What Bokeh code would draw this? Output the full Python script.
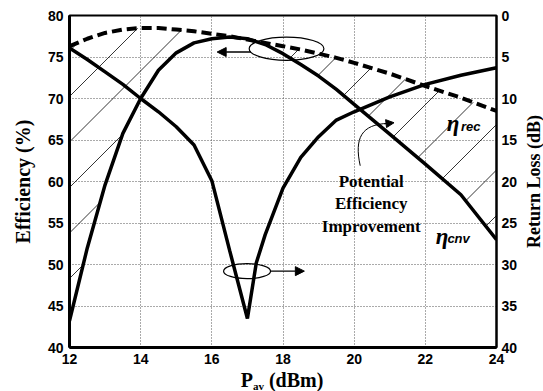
import numpy as np
from bokeh.plotting import figure
from bokeh.layouts import column, row
from bokeh.models import (Range1d, LinearAxis, FixedTicker, Label, Arrow,
                          NormalHead, Div)
from bokeh.embed import file_html
from bokeh.resources import INLINE

# ---- data ----
p_av = [12, 12.5, 13, 13.5, 14, 14.5, 15, 15.5, 16, 16.5, 17, 17.5, 18,
        18.5, 19, 19.5, 20, 21, 22, 23, 24]
eta_cnv = [43.2, 52.0, 59.6, 65.8, 70.0, 73.4, 75.5, 76.7, 77.2, 77.4, 77.2,
           76.5, 75.4, 74.1, 72.7, 71.1, 69.3, 65.7, 62.1, 58.4, 53.0]
eta_rec = [76.3, 77.2, 77.9, 78.3, 78.5, 78.5, 78.3, 78.1, 77.8, 77.5, 77.1,
           76.7, 76.3, 75.9, 75.4, 74.9, 74.3, 73.0, 71.5, 70.1, 68.5]

p_av_rl = [12, 12.5, 13, 13.5, 14, 14.5, 15, 15.5, 16, 16.5, 17, 17.25, 17.5,
           18, 18.5, 19, 19.5, 20, 21, 22, 23, 24]
return_loss = [3.9, 5.3, 6.8, 8.3, 10.0, 11.6, 13.4, 15.6, 19.9, 28.3, 36.5,
               29.8, 26.4, 20.8, 17.1, 14.6, 12.6, 11.6, 9.8, 8.3, 7.2, 6.3]

x_ticks = [12, 14, 16, 18, 20, 22, 24]
eff_ticks = [40, 45, 50, 55, 60, 65, 70, 75, 80]
rl_ticks = [0, 5, 10, 15, 20, 25, 30, 35, 40]

# ---- figure ----
TOTAL_W, TOTAL_H = 543, 391
W, H = 525, 370
BL, BR, BT, BB = 69, 29, 15, 23
x0, x1, e0, e1 = 12, 24, 40, 80
p = figure(width=W, height=H, x_range=Range1d(x0, x1), y_range=Range1d(e0, e1),
           output_backend="svg", toolbar_location=None,
           min_border_left=BL, min_border_right=BR, min_border_top=BT,
           min_border_bottom=BB, background_fill_color="white",
           border_fill_color="white")
p.extra_y_ranges = {"rl": Range1d(40, 0)}

tick_font = "Liberation Sans"
serif = "Liberation Serif"


def style_axis(ax, line_w):
    ax.major_label_text_font = tick_font
    ax.major_label_text_font_style = "bold"
    ax.major_label_text_font_size = "14px"
    ax.major_label_text_color = "black"
    ax.major_tick_line_color = None
    ax.minor_tick_line_color = None
    ax.major_tick_out = 0
    ax.major_tick_in = 0
    ax.minor_tick_out = 0
    ax.minor_tick_in = 0
    ax.axis_line_width = line_w
    ax.axis_line_color = "black"
    ax.major_label_standoff = 6
    ax.axis_label_text_font = serif
    ax.axis_label_text_font_style = "bold"
    ax.axis_label_text_color = "black"


style_axis(p.xaxis[0], 3)
style_axis(p.yaxis[0], 3)
p.xaxis[0].ticker = FixedTicker(ticks=x_ticks)
p.yaxis[0].ticker = FixedTicker(ticks=eff_ticks)
p.yaxis[0].axis_label = "Efficiency (%)"
p.yaxis[0].axis_label_text_font_size = "20px"
p.yaxis[0].axis_label_standoff = 11

rax = LinearAxis(y_range_name="rl", ticker=FixedTicker(ticks=rl_ticks))
style_axis(rax, 2)
rax.major_label_standoff = 5
p.add_layout(rax, "right")

p.outline_line_color = "black"
p.outline_line_width = 2

for g in [p.xgrid[0], p.ygrid[0]]:
    g.grid_line_color = "#555555"
    g.grid_line_dash = "1 2"
    g.grid_line_width = 1

# ---- hatched "potential efficiency improvement" region (45 deg on screen) ----
fw, fh = W - BL - BR, H - BT - BB
k = (fw / (x1 - x0)) / (fh / (e1 - e0))      # data slope of a 45-degree line
spacing = 45.5 / (fh / (e1 - e0))            # vertical spacing in data units
xs = np.linspace(x0, x1, 4001)
lo = np.interp(xs, p_av, eta_cnv)
hi = np.interp(xs, p_av, eta_rec)
hx, hy = [], []
for n in range(-2, 16):
    b = 70.24 - n * spacing
    yl = b + k * (xs - x0)
    inside = (yl >= lo) & (yl <= hi)
    idx = np.flatnonzero(inside)
    if idx.size == 0:
        continue
    runs = np.split(idx, np.flatnonzero(np.diff(idx) > 1) + 1)
    for r in runs:
        if r.size < 2:
            continue
        hx.append([xs[r[0]], xs[r[-1]]])
        hy.append([yl[r[0]], yl[r[-1]]])
p.multi_line(hx, hy, line_color="black", line_width=0.8)

# ---- curves ----
p.line(p_av, eta_rec, line_color="black", line_width=4, line_dash="10 5")
p.line(p_av, eta_cnv, line_color="black", line_width=3.5)
p.line(p_av_rl, return_loss, line_color="black", line_width=3.5, y_range_name="rl")

# ---- annotations ----
p.ellipse(x=[18.1], y=[76.0], width=2.1, height=2.8, fill_color=None,
          line_color="black", line_width=1.2)
p.add_layout(Arrow(end=NormalHead(size=9, fill_color="black", line_color="black"),
                   x_start=17.1, y_start=75.6, x_end=16.15, y_end=75.6,
                   line_width=1.3, line_color="black"))
p.ellipse(x=[16.99], y=[49.2], width=1.32, height=1.8, fill_color=None,
          line_color="black", line_width=1.2)
p.add_layout(Arrow(end=NormalHead(size=9, fill_color="black", line_color="black"),
                   x_start=17.65, y_start=49.2, x_end=18.6, y_end=49.2,
                   line_width=1.3, line_color="black"))

p.bezier(x0=[20.17], y0=[61.9], x1=[20.95], y1=[67.0], cx0=[20.0], cy0=[65.2],
         cx1=[20.2], cy1=[66.9], line_color="black", line_width=1)
p.add_layout(Arrow(end=NormalHead(size=8, fill_color="black", line_color="black"),
                   x_start=20.85, y_start=66.95, x_end=21.12, y_end=67.08,
                   line_width=1, line_color="black"))

for txt, yy in [("Potential", 60.0), ("Efficiency", 57.35), ("Improvement", 54.6)]:
    p.add_layout(Label(x=20.48, y=yy, text=txt, text_align="center",
                       text_baseline="alphabetic", text_font=serif,
                       text_font_style="bold", text_font_size="17px",
                       text_color="black"))

for (xe, ye, sub, xsb, ysb) in [(22.6, 67.0, "rec", 23.0, 66.6),
                                (22.29, 53.4, "cnv", 22.62, 53.1)]:
    p.add_layout(Label(x=xe, y=ye, text="η", text_font=serif,
                       text_font_style="bold italic", text_font_size="23px",
                       text_baseline="alphabetic", text_color="black"))
    p.add_layout(Label(x=xsb, y=ysb, text=sub, text_font=tick_font,
                       text_font_style="bold italic", text_font_size="13px",
                       text_baseline="alphabetic", text_color="black"))

# x-axis title with subscript (below the figure)
xlabel = Div(text="P<sub style='font-size:11px;vertical-align:-3px'>av</sub> (dBm)",
             width=W, height=TOTAL_H - H,
             styles={"font-family": serif, "font-weight": "bold",
                     "font-size": "20px", "line-height": "20px",
                     "text-align": "center", "padding-left": "39px",
                     "box-sizing": "border-box", "color": "black",
                     "margin": "0", "background-color": "white"})

# right-axis title, reading bottom-to-top
frame_center = BT + fh / 2
rlabel = Div(text="Return Loss (dB)", width=TOTAL_W - W, height=int(2 * frame_center),
             styles={"font-family": serif, "font-weight": "bold",
                     "font-size": "18px", "line-height": "18px",
                     "writing-mode": "vertical-rl", "transform": "rotate(180deg)",
                     "text-align": "center", "white-space": "nowrap",
                     "color": "black", "margin": "0", "overflow": "visible"})

layout = row(column(p, xlabel, spacing=0), rlabel, spacing=0,
             styles={"background-color": "white"})
open("out.html", "w").write(file_html(layout, INLINE))
